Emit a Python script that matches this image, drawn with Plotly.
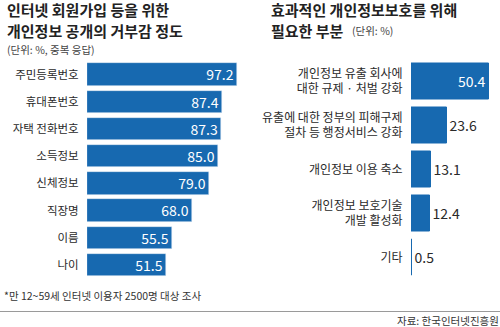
import plotly.graph_objects as go

left_categories = ["주민등록번호", "휴대폰번호", "자택 전화번호", "소득정보", "신체정보", "직장명", "이름", "나이"]
left_values = [97.2, 87.4, 87.3, 85.0, 79.0, 68.0, 55.5, 51.5]

right_categories = ["개인정보 유출 회사에<br>대한 규제 · 처벌 강화",
                    "유출에 대한 정부의 피해구제<br>절차 등 행정서비스 강화",
                    "개인정보 이용 축소",
                    "개인정보 보호기술<br>개발 활성화",
                    "기타"]
right_values = [50.4, 23.6, 13.1, 12.4, 0.5]

BAR = "#1769b0"
TXT = "#2a2a2a"
FONT = "Noto Sans CJK KR"
W, H = 500, 327

def px_x(p):
    return p / W

def px_y(p):
    return 1 - p / H

fig = go.Figure()

fig.add_trace(go.Bar(
    x=left_values, y=list(range(len(left_values))), orientation="h",
    marker=dict(color=BAR), width=0.83,
    text=[f"{v:.1f}" for v in left_values], textposition="inside",
    insidetextanchor="end", constraintext="none",
    textfont=dict(color="white", size=14, family=FONT),
    xaxis="x", yaxis="y", hoverinfo="skip",
))

r_pos = ["inside"] + ["outside"] * (len(right_values) - 1)
r_col = ["white"] + [TXT] * (len(right_values) - 1)
fig.add_trace(go.Bar(
    x=right_values, y=list(range(len(right_values))), orientation="h",
    marker=dict(color=BAR, line=dict(color=BAR, width=1)), width=0.84,
    text=[f"{v:.1f}" for v in right_values], textposition=r_pos,
    insidetextanchor="end", constraintext="none", cliponaxis=False,
    textfont=dict(color=r_col, size=14, family=FONT),
    xaxis="x2", yaxis="y2", hoverinfo="skip",
))

scale = 1.54  # px per percent
lx0 = 87
lx1 = W * 0.485
rx0 = 411
rx1 = 499

fig.update_layout(
    width=W, height=H, margin=dict(l=0, r=0, t=0, b=0),
    paper_bgcolor="white", plot_bgcolor="white", showlegend=False,
    font=dict(family=FONT, color=TXT),
    bargap=0,
    xaxis=dict(domain=[px_x(lx0), px_x(lx1)], range=[0, (lx1 - lx0) / scale],
               visible=False, fixedrange=True),
    yaxis=dict(domain=[px_y(74.5 + 27.2 * 7.5), px_y(74.5 - 13.6)],
               range=[7.5, -0.5], tickmode="array",
               tickvals=list(range(len(left_categories))), ticktext=left_categories,
               tickfont=dict(size=11.5, color=TXT, family=FONT),
               ticks="outside", ticklen=5, tickcolor="rgba(0,0,0,0)",
               showgrid=False, zeroline=False, showline=False, anchor="x"),
    xaxis2=dict(domain=[px_x(rx0), px_x(rx1)], range=[0, (rx1 - rx0) / scale],
                visible=False, fixedrange=True, anchor="y2"),
    yaxis2=dict(domain=[px_y(81.5 + 44 * 4.5), px_y(81.5 - 22)],
                range=[4.5, -0.5], tickmode="array",
                tickvals=list(range(len(right_categories))), ticktext=right_categories,
                tickfont=dict(size=12, color=TXT, family=FONT),
                ticks="outside", ticklen=5, tickcolor="rgba(0,0,0,0)",
                showgrid=False, zeroline=False, showline=False, anchor="x2"),
)

def ann(text, x, y, size, xanchor="left", yanchor="middle", color=TXT):
    fig.add_annotation(
        text=text,
        x=px_x(x), y=px_y(y), xref="paper", yref="paper",
        xanchor=xanchor, yanchor=yanchor, showarrow=False, borderpad=0,
        font=dict(size=size, color=color, family=FONT), align="left",
    )

TS = 15
ann("<b>인터넷 회원가입 등을 위한</b>", 6, 9, TS, color="#222")
ann("<b>개인정보 공개의 거부감 정도</b>", 6, 30.8, TS, color="#222")
ann("(단위: %, 중복 응답)", 6, 49, 10.5, color="#444")

ann("<b>효과적인 개인정보보호를 위해</b>", 270, 9, TS, color="#222")
ann("<b>필요한 부분</b>", 270, 30.8, TS, color="#222")
ann("(단위: %)", 351, 30.5, 10.5, color="#444")

ann("*만 12~59세 인터넷 이용자 2500명 대상 조사", 3, 295, 10.5, color="#333")
ann("자료: 한국인터넷진흥원", 500, 320, 10.5, xanchor="right", color="#333")

fig.add_shape(type="line", xref="paper", yref="paper",
              x0=0, x1=1, y0=px_y(311.5), y1=px_y(311.5),
              line=dict(color="#9a9a9a", width=1))

fig.write_html("out.html")
